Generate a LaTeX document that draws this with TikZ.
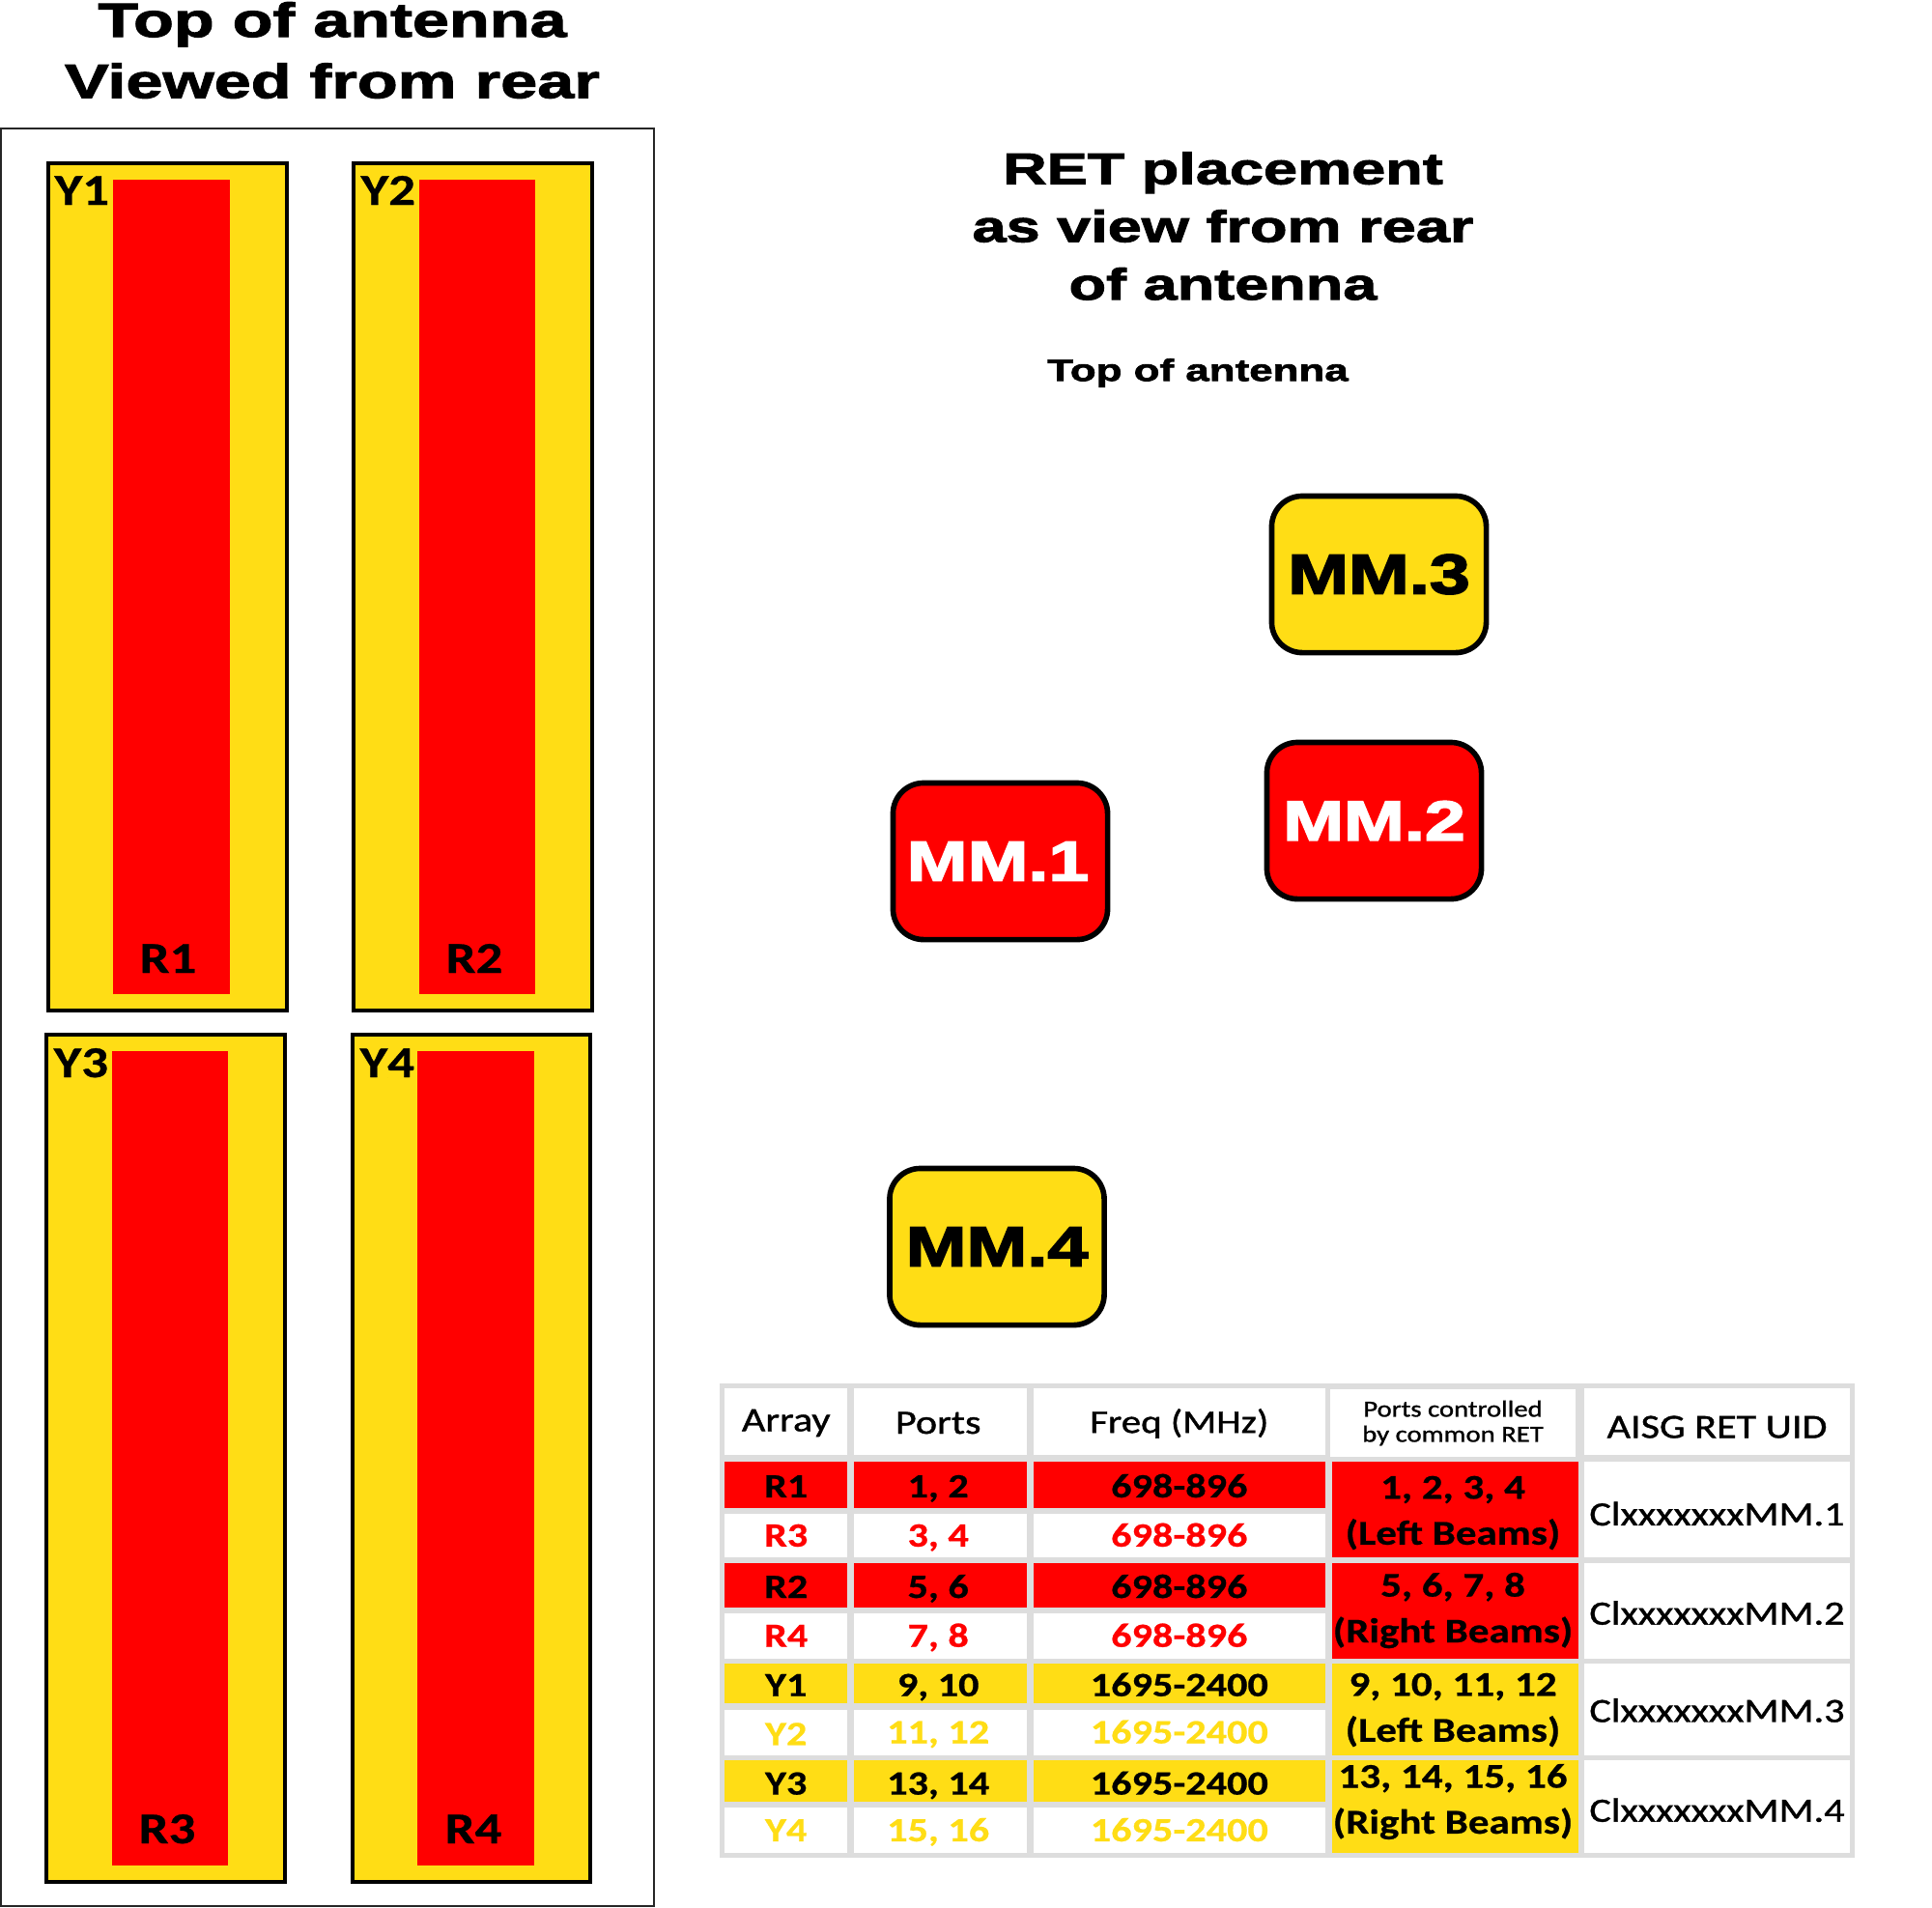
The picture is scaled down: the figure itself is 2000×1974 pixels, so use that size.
\documentclass[tikz,border=0pt]{standalone}
\usepackage{fontspec}
\usetikzlibrary{positioning}
\newfontfamily\headfont[FakeStretch=1.38,FakeBold=2.2]{Liberation Sans Bold}
\newfontfamily\boxfont[FakeStretch=1.3,FakeBold=3]{Liberation Sans Bold}
\newfontfamily\cellfont[FakeStretch=1.2,FakeBold=1.1]{Carlito}
\newfontfamily\cellboldfont[FakeStretch=1.2,FakeBold=0.6]{Carlito Bold}
\definecolor{antred}{HTML}{FF0000}
\definecolor{antyellow}{HTML}{FFDD15}
\definecolor{gridgray}{HTML}{DDDDDD}

\tikzset{
	panel/.style={draw=black,line width=1.2pt,fill=antyellow},
	radiator/.style={fill=antred},
	panellabel/.style={inner sep=0pt,font=\fontsize{13}{13}\cellboldfont},
	title/.style={inner sep=0pt,align=center,font=\fontsize{14.1}{18}\headfont},
	retbox/.style={draw=black,line width=1.6pt,rounded corners=9pt,minimum width=2.22cm,minimum height=1.62cm,inner sep=0pt,font=\fontsize{16.5}{16.5}\boxfont},
	cell/.style={inner sep=0pt,text height=8pt,text depth=1.5pt,font=\fontsize{10}{12}\cellboldfont},
	redrow/.style={cell,fill=antred,text=black,text height=9pt},
	redtext/.style={cell,fill=white,text=antred},
	yellowrow/.style={cell,fill=antyellow,text=black,text height=9pt},
	yellowtext/.style={cell,fill=white,text=antyellow},
	headcell/.style={cell,fill=white,font=\fontsize{10}{12}\cellfont},
	uidcell/.style={headcell},
	colarray/.style={minimum width=1.266cm},
	colports/.style={minimum width=1.786cm,execute at end node={\hspace{1.2pt}}},
	colfreq/.style={minimum width=3.024cm},
	coluid/.style={minimum width=2.75cm},
	beams/.style={inner sep=0pt,align=center,font=\fontsize{10.2}{13.5}\cellboldfont}
}

\begin{document}
\begin{tikzpicture}[x=0.01cm,y=-0.01cm]
	\useasboundingbox (0,0) rectangle (2000,1974);

	% left side, antenna seen from behind
	\node[title] (leftTitle) at (344,52) {Top of antenna\\Viewed from rear};
	\draw[line width=0.6pt,black!85] (1,133) rectangle (677,1973);

	\draw[panel] (50,169) rectangle (297,1046);
	\draw[panel] (366,169) rectangle (613,1046);
	\draw[panel] (48,1071) rectangle (295,1948);
	\draw[panel] (365,1071) rectangle (611,1948);

	\fill[radiator] (117,186) rectangle (237.5,1029);
	\fill[radiator] (433.5,186) rectangle (554,1029);
	\fill[radiator] (116,1088) rectangle (236,1931);
	\fill[radiator] (432,1088) rectangle (553,1931);

	\node[panellabel,anchor=base west] (y1) at (56,212) {Y1};
	\node[panellabel,anchor=base west] (y2) at (373,212) {Y2};
	\node[panellabel,anchor=base west] (y3) at (55,1115) {Y3};
	\node[panellabel,anchor=base west] (y4) at (372,1115) {Y4};
	\node[panellabel,anchor=base west] (r1) at (144,1007) {R1};
	\node[panellabel,anchor=base west] (r2) at (461,1007) {R2};
	\node[panellabel,anchor=base west] (r3) at (143,1908) {R3};
	\node[panellabel,anchor=base west] (r4) at (460,1908) {R4};

	% RET placement
	\node[title,font=\fontsize{13}{17}\headfont] (retTitle) at (1266,234) {RET placement\\as view from rear\\of antenna};
	\node[inner sep=0pt,font=\fontsize{9.05}{9.05}\headfont] (topLabel) at (1240,386) {Top of antenna};

	\node[retbox,fill=antyellow] (mm3) at (1427.5,594.5) {MM.3};
	\node[retbox,fill=antred,text=white] (mm2) at (1422.5,849.5) {MM.2};
	\node[retbox,fill=antred,text=white,execute at end node={\hspace{1.4pt}}] (mm1) at (1035.5,891.5) {MM.1};
	\node[retbox,fill=antyellow] (mm4) at (1032,1290.5) {MM.4};

	% table
	\fill[gridgray] (745,1432) rectangle (1920,1922.6);

	\node[headcell,colarray,minimum height=0.694cm,text height=7pt] (hArray) at (813.7,1471.7) {Array};
	\node[headcell,colports,minimum height=0.694cm,text height=8.5pt] (hPorts) at (973.3,1471.7) {Ports};
	\node[headcell,colfreq,minimum height=0.694cm,text height=8pt,font=\fontsize{9.7}{12}\cellfont] (hFreq) at (1220.8,1471.7) {Freq (MHz)};
	\node[headcell,minimum width=2.545cm,align=center,minimum height=0.694cm,text height=,text depth=,font=\fontsize{6.8}{7.4}\cellfont] (hCommon) at (1504,1473) {Ports controlled\\by common RET};
	\node[headcell,coluid,minimum height=0.694cm,text height=11pt] (hUid) at (1777.5,1471.7) {AISG RET UID};

	\node[redrow,colarray,minimum height=0.485cm] (a1) at (813.7,1536.75) {R1};
	\node[redrow,colports,minimum height=0.485cm] (p1) at (973.3,1536.75) {1, 2};
	\node[redrow,colfreq,minimum height=0.485cm] (f1) at (1220.8,1536.75) {698-896};
	\node[redtext,colarray,minimum height=0.452cm] (a2) at (813.7,1589.4) {R3};
	\node[redtext,colports,minimum height=0.452cm] (p2) at (973.3,1589.4) {3, 4};
	\node[redtext,colfreq,minimum height=0.452cm] (f2) at (1220.8,1589.4) {698-896};
	\node[redrow,colarray,minimum height=0.464cm] (a3) at (813.7,1640.8) {R2};
	\node[redrow,colports,minimum height=0.464cm] (p3) at (973.3,1640.8) {5, 6};
	\node[redrow,colfreq,minimum height=0.464cm] (f3) at (1220.8,1640.8) {698-896};
	\node[redtext,colarray,minimum height=0.465cm] (a4) at (813.7,1693.25) {R4};
	\node[redtext,colports,minimum height=0.465cm] (p4) at (973.3,1693.25) {7, 8};
	\node[redtext,colfreq,minimum height=0.465cm] (f4) at (1220.8,1693.25) {698-896};
	\node[yellowrow,colarray,minimum height=0.41cm] (a5) at (813.7,1742.5) {Y1};
	\node[yellowrow,colports,minimum height=0.41cm] (p5) at (973.3,1742.5) {9, 10};
	\node[yellowrow,colfreq,minimum height=0.41cm] (f5) at (1220.8,1742.5) {1695-2400};
	\node[yellowtext,colarray,minimum height=0.468cm,text height=9pt] (a6) at (813.7,1793.1) {Y2};
	\node[yellowtext,colports,minimum height=0.468cm] (p6) at (973.3,1793.1) {11, 12};
	\node[yellowtext,colfreq,minimum height=0.468cm] (f6) at (1220.8,1793.1) {1695-2400};
	\node[yellowrow,colarray,minimum height=0.43cm,text height=9.5pt] (a7) at (813.7,1843.5) {Y3};
	\node[yellowrow,colports,minimum height=0.43cm,text height=9.5pt] (p7) at (973.3,1843.5) {13, 14};
	\node[yellowrow,colfreq,minimum height=0.43cm,text height=9.5pt] (f7) at (1220.8,1843.5) {1695-2400};
	\node[yellowtext,colarray,minimum height=0.47cm] (a8) at (813.7,1894.5) {Y4};
	\node[yellowtext,colports,minimum height=0.47cm] (p8) at (973.3,1894.5) {15, 16};
	\node[yellowtext,colfreq,minimum height=0.47cm] (f8) at (1220.8,1894.5) {1695-2400};

	\fill[antred] (1379,1512.5) rectangle (1633.5,1612);
	\fill[antred] (1379,1617.6) rectangle (1633.5,1716.5);
	\fill[antyellow] (1379,1722) rectangle (1633.5,1816.5);
	\fill[antyellow] (1379,1822) rectangle (1633.5,1918);
	\node[beams] (c1) at (1504,1566) {1, 2, 3, 4\\(Left Beams)};
	\node[beams] (c2) at (1504,1667) {5, 6, 7, 8\\(Right Beams)};
	\node[beams] (c3) at (1504,1770) {9, 10, 11, 12\\(Left Beams)};
	\node[beams] (c4) at (1504,1865) {13, 14, 15, 16\\(Right Beams)};

	\node[uidcell,coluid,minimum height=0.995cm,text height=11pt] (u1) at (1777.5,1562.25) {ClxxxxxxxMM.1};
	\node[uidcell,coluid,minimum height=0.989cm,text height=9.8pt] (u2) at (1777.5,1667) {ClxxxxxxxMM.2};
	\node[uidcell,coluid,minimum height=0.945cm,text height=9pt] (u3) at (1777.5,1769.25) {ClxxxxxxxMM.3};
	\node[uidcell,coluid,minimum height=0.96cm,text height=10.4pt] (u4) at (1777.5,1870) {ClxxxxxxxMM.4};

\end{tikzpicture}
\end{document}
